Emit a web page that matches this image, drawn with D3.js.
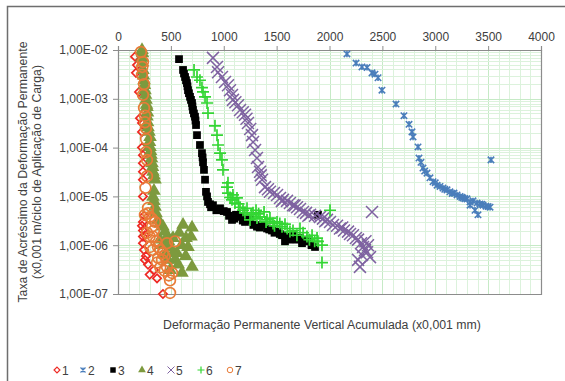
<!DOCTYPE html>
<html>
<head>
<meta charset="utf-8">
<script src="https://cdn.jsdelivr.net/npm/d3@7"></script>
<style>
  body { margin: 0; background: #fff; }
  svg text { font-family: "Liberation Sans", Arial, sans-serif; fill: #404040; }
</style>
</head>
<body>
<div id="chart"></div>
<script>
// series values: [deformation (x0,001 mm), rate]
const s1 = [[161,7.3e-3],[180,4.9e-3],[170,3.4e-3],[199,1.38e-3],[208,4.0e-4],[227,3.2e-4],[227,2.1e-4],
  [227,1.0e-4],[236,7e-5],[236,4.8e-5],[236,3.2e-5],[236,2.2e-5],[236,1.0e-5],[236,3.0e-6],[236,2.0e-6],
  [236,1.1e-6],[255,1.6e-6],[265,6e-7],[284,4e-7],[340,3.1e-7],[369,2.1e-7],[425,1.0e-7],[246,8e-7],[300,2.5e-7],
  [227,2.5e-6],[236,1.5e-6],[246,4.0e-6],[255,5.0e-7]];
const s2 = [[2165,8.3e-3],[2251,5.4e-3],[2307,4.5e-3],[2355,4.4e-3],[2402,3.4e-3],[2430,3.2e-3],[2459,2.7e-3],
  [2496,1.5e-3],[2629,7.8e-4],[2704,4.5e-4],[2752,3.0e-4],[2780,2.1e-4],[2790,1.65e-4],[2837,1.03e-4],
  [2846,6.1e-5],[2884,3.8e-5],[2922,3.0e-5],[2950,2.4e-5],[2979,2.0e-5],[3017,1.7e-5],[3045,1.6e-5],
  [3073,1.48e-5],[3111,1.36e-5],[3139,1.24e-5],[3177,1.17e-5],[3206,1.07e-5],[3234,1.0e-5],[3262,9.3e-6],
  [3300,8.9e-6],[3329,7.7e-6],[3357,8.1e-6],[3395,7.3e-6],[3423,7.0e-6],[3452,6.6e-6],[3480,6.3e-6],
  [3518,6.0e-6],[3376,5.2e-6],[3404,4.2e-6],[3329,6.6e-6],[3527,5.6e-5],[2865,5.0e-5],[2900,3.3e-5],
  [3000,1.9e-5],[3090,1.4e-5],[3160,1.15e-5],[3250,9.6e-6],[3280,9.0e-6],[3440,6.9e-6],[3500,6.2e-6]];
const s3 = [[577,6.5e-3],[615,3.9e-3],[634,2.8e-3],[652,2.1e-3],[662,1.5e-3],[681,1.1e-3],[700,8.2e-4],
  [709,5.9e-4],[728,4.3e-4],[738,2.9e-4],[747,1.8e-4],[775,1.13e-4],[794,7.7e-5],[804,5.0e-5],[823,2.2e-5],
  [832,1.24e-5],[851,7.7e-6],[870,6.9e-6],[898,6.6e-6],[965,5.7e-6],[1031,4.8e-6],[1078,3.3e-6],[1116,4.2e-6],
  [1154,3.8e-6],[1201,3.0e-6],[1248,3.3e-6],[1314,2.4e-6],[1362,2.6e-6],[1409,2.2e-6],[1456,2.0e-6],
  [1504,1.9e-6],[1551,1.6e-6],[1598,1.5e-6],[1579,1.2e-6],[1655,1.6e-6],[1721,1.4e-6],[1740,1.1e-6],
  [1787,1.2e-6],[1863,9.2e-7],[1891,4.2e-6],[624,3.3e-3],[643,2.4e-3],[657,1.8e-3],[671,1.3e-3],[690,9.5e-4],
  [704,7.0e-4],[718,5.0e-4],[733,3.6e-4],[800,6.3e-5],[813,3.5e-5],[842,1.0e-5],[880,6.0e-6],[930,5.2e-6],
  [1000,5.0e-6],[1050,4.0e-6],[1100,3.5e-6],[1180,3.2e-6],[1220,3.4e-6],[1280,2.6e-6],[1340,2.3e-6],
  [1430,2.1e-6],[1480,1.8e-6],[1530,1.7e-6],[1620,1.3e-6],[1690,1.3e-6],[1760,1.3e-6],[1830,1.0e-6]];
const s4 = [[227,1.0e-2],[227,6.9e-3],[236,3.9e-3],[246,2.4e-3],[255,1.5e-3],[265,9.5e-4],[274,6.8e-4],
  [274,4.3e-4],[284,2.6e-4],[303,1.65e-4],[303,1.03e-4],[312,7.1e-5],[321,4.8e-5],[331,3.2e-5],[350,2.2e-5],
  [331,9.8e-6],[350,6.1e-6],[378,3.3e-6],[425,2.4e-6],[463,1.5e-6],[492,9.2e-7],[539,5.0e-7],[605,2.7e-7],
  [615,2.6e-6],[700,2.3e-6],[662,9.2e-7],[700,3.6e-7],[558,6.9e-7],[397,1.3e-6],[444,6.3e-7],[492,3.1e-7],
  [643,1.4e-6],[232,8.5e-3],[232,5.5e-3],[241,3.0e-3],[250,1.9e-3],[260,1.2e-3],[270,7.5e-4],[279,5.2e-4],
  [280,3.3e-4],[293,2.1e-4],[298,1.3e-4],[308,8.5e-5],[317,6.0e-5],[326,4.0e-5],[340,2.7e-5],[340,1.3e-5],
  [340,8.0e-6],[360,4.5e-6],[400,2.8e-6],[444,1.9e-6],[478,1.2e-6],[520,7.0e-7],[570,4.0e-7],[420,1.0e-6],
  [520,1.4e-6],[470,5.0e-7],[640,6.0e-7],[580,1.8e-6],[690,1.5e-6],[600,1.0e-6]];
const s5 = [[898,6.9e-3],[936,4.5e-3],[946,3.5e-3],[983,2.8e-3],[1012,2.2e-3],[1040,1.9e-3],[1059,1.5e-3],
  [1078,1.2e-3],[1087,9.5e-4],[1135,7.4e-4],[1154,5.9e-4],[1201,4.7e-4],[1229,3.2e-4],[1267,1.8e-4],
  [1277,1.3e-4],[1296,8.9e-5],[1314,6.1e-5],[1324,4.0e-5],[1343,3.2e-5],[1362,2.2e-5],[1390,1.55e-5],
  [1418,1.4e-5],[1437,1.24e-5],[1475,1.17e-5],[1504,1.07e-5],[1532,9.3e-6],[1560,8.5e-6],[1598,8.1e-6],
  [1626,7.3e-6],[1655,6.6e-6],[1693,6.0e-6],[1721,5.5e-6],[1749,4.8e-6],[1778,4.6e-6],[1816,4.2e-6],
  [1863,4.0e-6],[1910,3.8e-6],[1938,3.5e-6],[1976,3.3e-6],[2005,3.0e-6],[2033,2.6e-6],[2071,2.5e-6],
  [2099,2.2e-6],[2137,2.0e-6],[2175,1.9e-6],[2194,1.7e-6],[2222,1.6e-6],[2250,1.4e-6],[2270,1.3e-6],
  [2298,1.1e-6],[2317,9.2e-7],[2336,8.0e-7],[2355,7.2e-7],[2364,1.0e-6],[2383,5.7e-7],[2307,6.3e-7],
  [2270,5.0e-7],[2288,3.6e-7],[2402,4.8e-6],[1110,8.5e-4],[1180,5.3e-4],[1215,3.9e-4],[1250,2.4e-4],
  [1350,2.7e-5],[1550,8.0e-6],[1670,6.5e-6],[1800,4.0e-6],[1960,3.1e-6],[2120,2.3e-6],[2340,1.2e-6]];
const s6 = [[719,3.9e-3],[747,2.8e-3],[775,2.4e-3],[794,1.7e-3],[804,1.38e-3],[823,1.1e-3],[842,8.2e-4],
  [851,5.1e-4],[917,2.8e-4],[936,1.8e-4],[946,1.13e-4],[965,7.7e-5],[983,5.6e-5],[993,3.5e-5],[1040,1.9e-5],
  [1031,1.55e-5],[1040,1.17e-5],[1087,1.07e-5],[1125,9.3e-6],[1078,8.5e-6],[1106,7.3e-6],[1154,6.0e-6],
  [1182,5.2e-6],[1220,5.7e-6],[1277,4.6e-6],[1305,5.2e-6],[1343,3.8e-6],[1381,4.8e-6],[1314,3.6e-6],
  [1248,3.3e-6],[1409,3.3e-6],[1437,3.6e-6],[1466,2.8e-6],[1504,3.0e-6],[1551,2.4e-6],[1579,2.7e-6],
  [1626,1.9e-6],[1655,2.0e-6],[1692,1.6e-6],[1721,2.2e-6],[1787,1.5e-6],[1835,1.6e-6],[1882,1.4e-6],
  [1891,1.2e-6],[1929,1.0e-6],[2005,5.2e-6],[1929,4.4e-7],[1060,9.5e-6],[1140,7.0e-6],[1200,4.6e-6],
  [1260,4.2e-6],[1330,4.4e-6],[1400,3.0e-6],[1480,2.5e-6],[1530,2.8e-6],[1600,2.2e-6],[1750,1.8e-6],
  [1810,1.3e-6],[1860,1.2e-6]];
const s7 = [[217,9.1e-3],[236,5.7e-3],[227,3.1e-3],[236,1.2e-3],[246,6.5e-4],[255,3.3e-4],[265,2.5e-4],
  [265,8.1e-5],[274,5.6e-5],[274,2.6e-5],[284,5.8e-6],[303,3.8e-6],[321,2.4e-6],[274,1.8e-6],[331,1.5e-6],
  [378,9.2e-7],[303,9.2e-7],[425,6.9e-7],[416,5.0e-7],[463,3.6e-7],[511,2.7e-7],[369,4.4e-7],[492,1.9e-7],
  [492,1.05e-7],[539,1.2e-6],[463,1.1e-6],[255,4.2e-6],[350,3.0e-6],[284,4.5e-6],[320,3.5e-6],[340,2.0e-6],
  [300,1.5e-6],[360,1.2e-6],[330,8.0e-7],[400,8.0e-7],[440,6.0e-7],[380,5.5e-7],[440,3.0e-7],[480,2.4e-7],
  [400,3.5e-7],[260,1.5e-5],[265,1.5e-4],[255,4.5e-4],[246,2.0e-3],[230,4.5e-3]];

const seriesNames = ['1','2','3','4','5','6','7'];
const seriesData = [s1, s2, s3, s4, s5, s6, s7];
const xTicks = [0, 500, 1000, 1500, 2000, 2500, 3000, 3500, 4000];
const yTicks = [1e-2, 1e-3, 1e-4, 1e-5, 1e-6, 1e-7];
const yTickLabels = ['1,00E-02','1,00E-03','1,00E-04','1,00E-05','1,00E-06','1,00E-07'];
const xTitle = 'Deformação Permanente Vertical Acumulada (x0,001 mm)';
const yTitle = ['Taxa de Acréscimo da Deformação Permanente', '(x0,001 m/ciclo de Aplicação de Carga)'];

const W = 565, H = 381;
const plot = {left: 118, right: 541, top: 50, bottom: 294};

const svg = d3.select('#chart').append('svg').attr('width', W).attr('height', H);

// outer frame (only top and left edges are visible in the picture)
svg.append('path').attr('d', 'M7.5,381V6.5H565').attr('fill', 'none').attr('stroke', '#6e6e6e').attr('stroke-width', 1.5);

const x = d3.scaleLinear().domain([0, 4000]).range([plot.left, plot.right]);
const y = d3.scaleLog().domain([1e-7, 1e-2]).range([plot.bottom, plot.top]);

// grid
const grid = svg.append('g');
const minorX = d3.range(100, 4000, 100);
grid.selectAll('line.vx').data(minorX).join('line')
  .attr('x1', d => Math.round(x(d)) + 0.5).attr('x2', d => Math.round(x(d)) + 0.5)
  .attr('y1', plot.top).attr('y2', plot.bottom)
  .attr('stroke', d => d % 500 === 0 ? '#c6eac6' : '#dcf2dc').attr('stroke-width', 1);
const minorY = [];
for (let e = -7; e < -2; e++) for (let m = 1; m < 10; m++) minorY.push(m * Math.pow(10, e));
grid.selectAll('line.hy').data(minorY.filter(d => d > 1e-7)).join('line')
  .attr('y1', d => Math.round(y(d)) + 0.5).attr('y2', d => Math.round(y(d)) + 0.5)
  .attr('x1', plot.left).attr('x2', plot.right)
  .attr('stroke', d => Math.abs(Math.log10(d) % 1) < 1e-9 ? '#c6eac6' : '#dcf2dc').attr('stroke-width', 1);

// plot border right + bottom
svg.append('path')
  .attr('d', `M${plot.right + 0.5},${plot.top}V${plot.bottom + 0.5}H${plot.left}`)
  .attr('fill', 'none').attr('stroke', '#8c8c8c').attr('stroke-width', 1.2);

// axes
const xAxis = svg.append('g').attr('transform', `translate(0,${plot.top})`)
  .call(d3.axisTop(x).tickValues(xTicks).tickSize(4).tickPadding(5).tickFormat(d3.format('d')));
const yAxis = svg.append('g').attr('transform', `translate(${plot.left},0)`)
  .call(d3.axisLeft(y).tickValues(yTicks).tickSize(5).tickPadding(5).tickFormat((d, i) => yTickLabels[i]));
[xAxis, yAxis].forEach(a => {
  a.select('.domain').attr('stroke', '#8c8c8c').attr('stroke-width', 1.2);
  a.selectAll('.tick line').attr('stroke', '#8c8c8c');
  a.selectAll('.tick text').attr('font-size', 12).attr('fill', '#404040')
    .attr('font-family', '"Liberation Sans", Arial, sans-serif');
});

// markers
const sym = {
  diamond: d3.symbol().type(d3.symbolDiamond2).size(44),
  square: d3.symbol().type(d3.symbolSquare).size(60),
  triangle: d3.symbol().type(d3.symbolTriangle).size(80),
  circle: d3.symbol().type(d3.symbolCircle).size(90)
};
function star(s) { return `M${-s},${-s}L${s},${s}M${-s},${s}L${s},${-s}M0,${-s}V${s}`; }
function cross(s) { return `M${-s},${-s}L${s},${s}M${-s},${s}L${s},${-s}`; }
function plus(s) { return `M${-s},0H${s}M0,${-s}V${s}`; }

const styles = [
  {d: sym.diamond(), fill: 'none', stroke: '#ee2a24', w: 1.7},
  {d: star(3.2), fill: 'none', stroke: '#4a7ebb', w: 1.6},
  {d: sym.square(), fill: '#000', stroke: 'none', w: 0},
  {d: sym.triangle(), fill: '#7d9a3e', stroke: 'none', w: 0},
  {d: cross(6), fill: 'none', stroke: '#7f63a1', w: 1.5},
  {d: plus(6), fill: 'none', stroke: '#33d633', w: 1.7},
  {d: sym.circle(), fill: 'none', stroke: '#e87b37', w: 1.7}
];

seriesData.forEach((data, i) => {
  const st = styles[i];
  svg.append('g').attr('class', 'series s' + (i + 1))
    .selectAll('path').data(data).join('path')
    .attr('transform', d => `translate(${x(d[0])},${y(d[1])})`)
    .attr('d', st.d).attr('fill', st.fill).attr('stroke', st.stroke).attr('stroke-width', st.w);
});

// axis titles
svg.append('text').attr('x', 322).attr('y', 329).attr('text-anchor', 'middle')
  .attr('font-size', 12.3).text(xTitle);
const yt = svg.append('text').attr('transform', `translate(27,${(plot.top + plot.bottom) / 2}) rotate(-90)`)
  .attr('text-anchor', 'middle').attr('font-size', 12.3);
yt.append('tspan').attr('x', 0).attr('dy', 0).text(yTitle[0]);
yt.append('tspan').attr('x', 0).attr('dy', 14).text(yTitle[1]);

// legend
const legX = [57, 83, 113, 142, 171, 201, 230];
const legendStyles = [
  {d: d3.symbol().type(d3.symbolDiamond2).size(22)(), fill: 'none', stroke: '#ee2a24', w: 1.2},
  {d: star(2.5), fill: 'none', stroke: '#4a7ebb', w: 1.2},
  {d: d3.symbol().type(d3.symbolSquare).size(30)(), fill: '#000', stroke: 'none', w: 0},
  {d: d3.symbol().type(d3.symbolTriangle).size(26)(), fill: '#7d9a3e', stroke: 'none', w: 0},
  {d: cross(3.5), fill: 'none', stroke: '#7f63a1', w: 1},
  {d: plus(3.5), fill: 'none', stroke: '#33d633', w: 1.2},
  {d: d3.symbol().type(d3.symbolCircle).size(24)(), fill: 'none', stroke: '#e87b37', w: 1}
];
const leg = svg.append('g').selectAll('g').data(seriesNames).join('g')
  .attr('transform', (d, i) => `translate(${legX[i]},370)`);
leg.append('path').attr('d', (d, i) => legendStyles[i].d)
  .attr('fill', (d, i) => legendStyles[i].fill).attr('stroke', (d, i) => legendStyles[i].stroke)
  .attr('stroke-width', (d, i) => legendStyles[i].w);
leg.append('text').attr('x', 5).attr('y', 4.5).attr('font-size', 12).attr('fill', '#595959').text(d => d);
</script>
</body>
</html>
